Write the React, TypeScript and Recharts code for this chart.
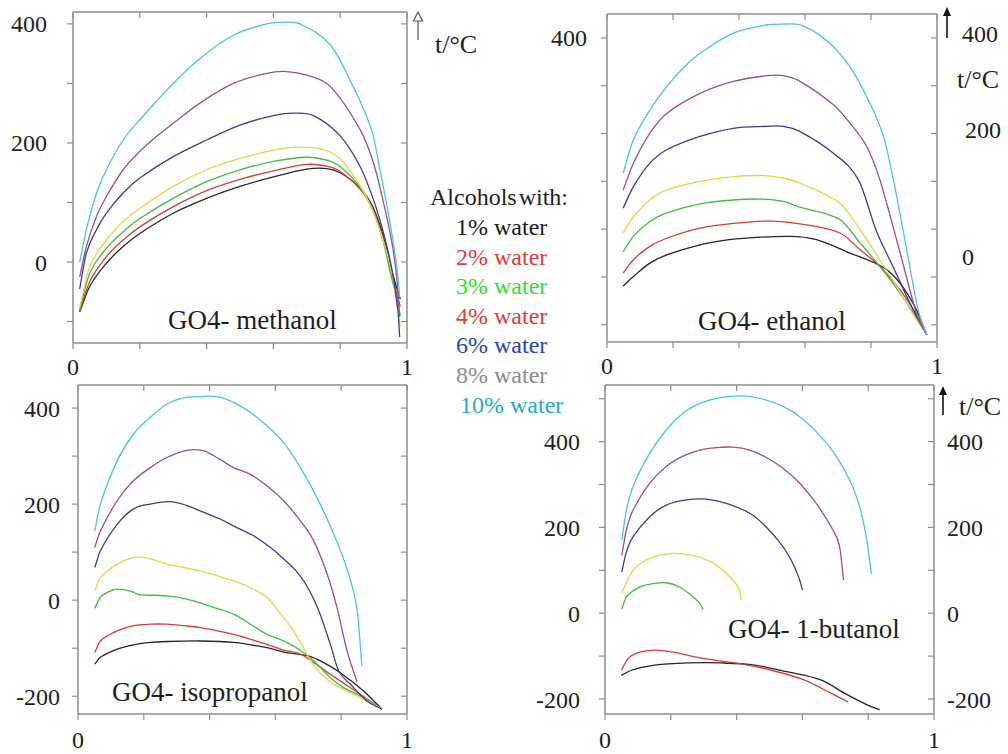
import React from 'react';
import { LineChart, Line, XAxis, YAxis } from 'recharts';

type Pt = [number, number];

// ---------- shared ----------
const curveColors = ['#262626', '#d63c3c', '#46b946', '#e2d64a', '#3b3c98', '#97518f', '#4fc6cf'];
const legendTitle = 'Alcohols with:';
const legendLabels = ['1% water', '2% water', '3% water', '4% water', '6% water', '8% water', '10% water'];
const legendColors = ['#1a1a1a', '#e23b3b', '#33dd33', '#d94040', '#2a45b5', '#8c8c8c', '#27a9cc'];
const xTicks = [0, 0.2, 0.4, 0.6, 0.8, 1];
const xTickLabels = [0, 1];

// ---------- GO4 - methanol ----------
const methanol1: Pt[] = [[.02,-84],[.05,-41],[.1,-2],[.15,26],[.2,48],[.3,82],[.4,107],[.5,127],[.6,143],[.7,156],[.76,157],[.8,150],[.86,124],[.9,90],[.93,42],[.95,-5],[.97,-45],[.98,-62]];
const methanol2: Pt[] = [[.02,-82],[.05,-33],[.1,9],[.15,37],[.2,59],[.3,93],[.4,120],[.5,139],[.6,153],[.7,164],[.76,161],[.8,152],[.86,122],[.9,86],[.93,36],[.95,-12],[.97,-55],[.98,-75]];
const methanol3: Pt[] = [[.02,-80],[.05,-19],[.1,23],[.15,51],[.2,73],[.3,107],[.4,135],[.5,155],[.6,169],[.7,176],[.76,171],[.8,160],[.86,125],[.9,84],[.93,32],[.95,-18],[.97,-62],[.98,-90]];
const methanol4: Pt[] = [[.02,-76],[.05,-8],[.1,37],[.15,68],[.2,90],[.3,127],[.4,155],[.5,174],[.6,188],[.67,193],[.75,189],[.8,173],[.86,128],[.9,82],[.94,15],[.96,-35],[.973,-85],[.98,-109]];
const methanol6: Pt[] = [[.02,-45],[.04,15],[.07,54],[.1,82],[.15,116],[.2,141],[.3,177],[.4,205],[.5,230],[.6,246],[.66,250],[.72,246],[.8,212],[.86,160],[.9,104],[.93,48],[.955,-13],[.973,-81],[.978,-126]];
const methanol8: Pt[] = [[.02,-25],[.04,26],[.07,76],[.1,110],[.15,155],[.2,186],[.25,211],[.3,233],[.38,267],[.48,300],[.58,317],[.64,320],[.7,314],[.77,295],[.86,222],[.9,166],[.93,99],[.955,32],[.97,-30],[.978,-92]];
const methanol10: Pt[] = [[.02,0],[.04,54],[.07,115],[.1,155],[.15,205],[.2,239],[.3,300],[.38,342],[.48,381],[.58,400],[.635,403],[.68,400],[.77,365],[.83,305],[.894,222],[.919,155],[.944,82],[.961,25],[.973,-25],[.978,-59]];
const methanolSeries = [methanol1, methanol2, methanol3, methanol4, methanol6, methanol8, methanol10];
const methanolYTicks = [-100, 0, 100, 200, 300, 400];
const methanolYLabels = [0, 200, 400];

// ---------- GO4 - ethanol ----------
const ethanol1: Pt[] = [[.049,-119],[.08,-99],[.13,-71],[.181,-54],[.282,-33],[.383,-21],[.555,-15],[.635,-22],[.736,-50],[.837,-80],[.888,-113],[.938,-169],[.969,-221]];
const ethanol2: Pt[] = [[.049,-92],[.08,-64],[.13,-36],[.181,-19],[.282,2],[.383,12],[.494,17],[.585,11],[.706,-8],[.767,-43],[.827,-78],[.888,-127],[.948,-190],[.969,-221]];
const ethanol3: Pt[] = [[.049,-47],[.08,-15],[.13,16],[.181,34],[.282,53],[.383,61],[.46,63],[.534,58],[.585,46],[.706,20],[.767,-29],[.827,-78],[.888,-134],[.948,-197],[.969,-221]];
const ethanol4: Pt[] = [[.049,-8],[.08,26],[.13,61],[.181,82],[.282,100],[.383,110],[.475,112],[.534,107],[.585,96],[.706,54],[.767,-1],[.827,-64],[.878,-120],[.938,-190],[.969,-221]];
const ethanol6: Pt[] = [[.049,44],[.08,89],[.13,138],[.181,166],[.282,194],[.383,211],[.484,215],[.534,215],[.585,204],[.686,159],[.762,103],[.817,-5],[.868,-80],[.923,-162],[.969,-221]];
const ethanol8: Pt[] = [[.049,82],[.08,138],[.13,201],[.181,242],[.282,284],[.383,309],[.484,321],[.534,321],[.585,309],[.686,260],[.736,222],[.787,173],[.827,103],[.888,-49],[.938,-176],[.969,-221]];
const ethanol10: Pt[] = [[.049,117],[.08,187],[.13,249],[.181,298],[.231,337],[.282,368],[.383,410],[.484,427],[.534,429],[.585,427],[.635,410],[.686,382],[.736,340],[.787,277],[.837,196],[.868,103],[.905,-31],[.943,-169],[.969,-221]];
const ethanolSeries = [ethanol1, ethanol2, ethanol3, ethanol4, ethanol6, ethanol8, ethanol10];
const ethanolYTicks = [-200, -100, 0, 100, 200, 300, 400];
const ethanolYLabels = [400];
const ethanolRightLabels = ['400', 't/°C', '200', '0'];

// ---------- GO4 - isopropanol ----------
const isopropanol1: Pt[] = [[.051,-133],[.068,-119],[.119,-102],[.169,-93],[.22,-88],[.27,-86],[.372,-85],[.473,-88],[.574,-99],[.625,-108],[.7,-116],[.747,-130],[.797,-151],[.868,-189],[.924,-227]];
const isopropanol2: Pt[] = [[.051,-109],[.068,-85],[.119,-64],[.169,-53],[.22,-50],[.27,-50],[.321,-53],[.372,-57],[.473,-71],[.574,-92],[.625,-104],[.676,-112],[.737,-140],[.797,-168],[.858,-196],[.924,-227]];
const isopropanol3: Pt[] = [[.051,-17],[.068,6],[.098,19],[.119,23],[.159,19],[.18,13],[.19,11],[.27,9],[.331,2],[.412,-15],[.473,-29],[.524,-50],[.574,-71],[.615,-82],[.666,-100],[.716,-126],[.767,-161],[.807,-182],[.858,-199],[.924,-227]];
const isopropanol4: Pt[] = [[.051,19],[.068,47],[.119,75],[.169,89],[.2,89],[.24,82],[.27,75],[.3,71],[.372,61],[.422,51],[.473,40],[.524,26],[.574,6],[.615,-28],[.646,-55],[.676,-88],[.716,-135],[.757,-165],[.797,-182],[.858,-203],[.924,-227]];
const isopropanol6: Pt[] = [[.051,68],[.068,103],[.119,158],[.169,190],[.22,200],[.28,205],[.331,197],[.382,183],[.432,169],[.483,151],[.534,134],[.584,110],[.615,92],[.676,50],[.726,-12],[.767,-92],[.792,-147],[.828,-175],[.878,-210],[.924,-227]];
const isopropanol8: Pt[] = [[.051,110],[.068,144],[.119,207],[.169,249],[.22,276],[.27,297],[.331,312],[.382,311],[.422,297],[.473,276],[.524,262],[.574,238],[.625,207],[.676,165],[.716,124],[.757,55],[.787,-15],[.818,-106],[.848,-170]];
const isopropanol10: Pt[] = [[.051,144],[.068,200],[.119,290],[.169,346],[.22,381],[.27,408],[.321,421],[.372,424],[.422,424],[.473,412],[.524,391],[.574,363],[.625,328],[.676,276],[.726,214],[.777,138],[.818,64],[.848,-18],[.863,-137]];
const isopropanolSeries = [isopropanol1, isopropanol2, isopropanol3, isopropanol4, isopropanol6, isopropanol8, isopropanol10];
const isopropanolYTicks = [-200, -100, 0, 100, 200, 300, 400];
const isopropanolYLabels = [-200, 0, 200, 400];

// ---------- GO4 - 1-butanol ----------
const butanol1: Pt[] = [[.05,-145],[.08,-133],[.151,-121],[.252,-116],[.354,-116],[.455,-121],[.556,-137],[.658,-156],[.729,-187],[.8,-215],[.835,-225]];
const butanol2: Pt[] = [[.05,-133],[.07,-106],[.1,-92],[.151,-86],[.202,-90],[.303,-106],[.404,-117],[.506,-133],[.607,-156],[.688,-187],[.739,-207]];
const butanol3: Pt[] = [[.051,9],[.065,38],[.105,61],[.146,69],[.186,71],[.227,61],[.268,38],[.288,23],[.298,9]];
const butanol4: Pt[] = [[.051,47],[.085,100],[.136,128],[.186,138],[.227,139],[.288,131],[.338,112],[.389,77],[.409,54],[.414,30]];
const butanol6: Pt[] = [[.051,96],[.065,143],[.085,178],[.136,225],[.186,252],[.247,264],[.308,266],[.369,256],[.44,233],[.49,201],[.541,155],[.571,116],[.592,77],[.6,54]];
const butanol8: Pt[] = [[.051,135],[.065,194],[.085,240],[.136,303],[.186,342],[.237,366],[.288,380],[.338,386],[.389,387],[.44,380],[.49,363],[.541,338],[.592,303],[.642,256],[.693,194],[.713,155],[.725,77]];
const butanol10: Pt[] = [[.051,170],[.065,240],[.085,295],[.136,373],[.186,427],[.237,466],[.288,489],[.338,501],[.389,506],[.43,506],[.49,497],[.541,482],[.592,458],[.642,423],[.693,377],[.744,310],[.774,248],[.794,178],[.81,91]];
const butanolSeries = [butanol1, butanol2, butanol3, butanol4, butanol6, butanol8, butanol10];
const butanolYTicks = [-200, -100, 0, 100, 200, 300, 400, 500];
const butanolYLabels = [-200, 0, 200, 400];
const butanolRightLabels = [-200, 0, 200, 400];

// ---------- styling ----------
const SERIF = '"Liberation Serif", "Times New Roman", Times, serif';
const FRAME = '#8e8e8e';
const TEXT = '#1e1e1e';

const toData = (pts: Pt[]) => pts.map(([x, y]) => ({ x, y }));

// smooth Hermite curve through the points (tangents from neighbouring points)
const smoothCurve = (context: any) => {
  let xs: number[] = [];
  let ys: number[] = [];
  return {
    areaStart() {},
    areaEnd() {},
    lineStart() {
      xs = [];
      ys = [];
    },
    point(x: number, y: number) {
      xs.push(+x);
      ys.push(+y);
    },
    lineEnd() {
      const n = xs.length;
      if (!n) return;
      context.moveTo(xs[0], ys[0]);
      if (n === 1) return;
      const m: number[] = [];
      for (let i = 0; i < n; i++) {
        if (i === 0) m.push((ys[1] - ys[0]) / (xs[1] - xs[0]));
        else if (i === n - 1) m.push((ys[n - 1] - ys[n - 2]) / (xs[n - 1] - xs[n - 2]));
        else m.push((ys[i + 1] - ys[i - 1]) / (xs[i + 1] - xs[i - 1]));
      }
      for (let i = 0; i < n - 1; i++) {
        const dx = xs[i + 1] - xs[i];
        context.bezierCurveTo(
          xs[i] + dx / 3, ys[i] + (m[i] * dx) / 3,
          xs[i + 1] - dx / 3, ys[i + 1] - (m[i + 1] * dx) / 3,
          xs[i + 1], ys[i + 1]
        );
      }
    },
  };
};

interface PanelProps {
  left: number;
  top: number;
  width: number;
  height: number;
  margin: { top: number; right: number; bottom: number; left: number };
  yWidth: number;
  domain: [number, number];
  yTicks: number[];
  yLabels: number[];
  series: Pt[][];
  xTickMargin: number;
  yTickMargin: number;
  rightLabels?: number[];
}

function Panel(p: PanelProps) {
  const tickStyle = { fontFamily: SERIF, fontSize: 24, fill: TEXT };
  const axisLine = { stroke: FRAME, strokeWidth: 1.5 };
  const tickLine = { stroke: FRAME, strokeWidth: 1.2 };
  return (
    <div style={{ position: 'absolute', left: p.left, top: p.top }}>
      <LineChart width={p.width} height={p.height} margin={p.margin}>
        <XAxis
          xAxisId="b"
          dataKey="x"
          type="number"
          domain={[0, 1]}
          ticks={xTicks}
          interval={0}
          allowDataOverflow
          tickFormatter={(v: number) => (xTickLabels.includes(v) ? String(v) : '')}
          tick={tickStyle}
          tickSize={6}
          tickMargin={p.xTickMargin}
          axisLine={axisLine}
          tickLine={tickLine}
          height={40}
        />
        <XAxis
          xAxisId="t"
          orientation="top"
          mirror
          dataKey="x"
          type="number"
          domain={[0, 1]}
          ticks={xTicks}
          interval={0}
          allowDataOverflow
          tickFormatter={() => ''}
          tickSize={6}
          axisLine={axisLine}
          tickLine={tickLine}
        />
        <YAxis
          yAxisId="l"
          type="number"
          domain={p.domain}
          ticks={p.yTicks}
          interval={0}
          allowDataOverflow
          tickFormatter={(v: number) => (p.yLabels.includes(v) ? String(v) : '')}
          tick={tickStyle}
          tickSize={6}
          tickMargin={p.yTickMargin}
          axisLine={axisLine}
          tickLine={tickLine}
          width={p.yWidth}
        />
        <YAxis
          yAxisId="r"
          orientation="right"
          mirror
          type="number"
          domain={p.domain}
          ticks={p.yTicks}
          interval={0}
          allowDataOverflow
          tickFormatter={() => ''}
          tickSize={6}
          axisLine={axisLine}
          tickLine={tickLine}
        />
        {p.rightLabels && (
          <YAxis
            yAxisId="rl"
            orientation="right"
            type="number"
            domain={p.domain}
            ticks={p.rightLabels}
            interval={0}
            allowDataOverflow
            tick={tickStyle}
            tickSize={0}
            tickMargin={13}
            axisLine={false}
            tickLine={false}
            width={60}
          />
        )}
        {p.series.map((pts, i) => (
          <Line
            key={i}
            xAxisId="b"
            yAxisId="l"
            data={toData(pts)}
            dataKey="y"
            type={smoothCurve as any}
            stroke={curveColors[i]}
            strokeWidth={1.3}
            dot={false}
            activeDot={false}
            isAnimationActive={false}
          />
        ))}
      </LineChart>
    </div>
  );
}

const titleStyle = { fontFamily: SERIF, fontSize: 27, fill: TEXT };
const labelStyle = { fontFamily: SERIF, fontSize: 24, fill: TEXT };

export default function App() {
  return (
    <div style={{ position: 'absolute', left: 0, top: 0, width: 1008, height: 754, background: '#fff', overflow: 'hidden' }}>
      <Panel
        left={0} top={0} width={417} height={383}
        margin={{ top: 12, right: 10, bottom: 0, left: 0 }}
        yWidth={73} domain={[-136, 420]}
        yTicks={methanolYTicks} yLabels={methanolYLabels}
        series={methanolSeries} xTickMargin={9} yTickMargin={20}
      />
      <Panel
        left={500} top={0} width={447} height={382}
        margin={{ top: 14, right: 10, bottom: 0, left: 0 }}
        yWidth={107} domain={[-236, 450]}
        yTicks={ethanolYTicks} yLabels={ethanolYLabels}
        series={ethanolSeries} xTickMargin={9} yTickMargin={14}
      />
      <Panel
        left={0} top={370} width={417} height={384}
        margin={{ top: 15, right: 10, bottom: 0, left: 0 }}
        yWidth={78} domain={[-237, 448]}
        yTicks={isopropanolYTicks} yLabels={isopropanolYLabels}
        series={isopropanolSeries} xTickMargin={11} yTickMargin={12}
      />
      <Panel
        left={500} top={370} width={498} height={384}
        margin={{ top: 15, right: 4, bottom: 0, left: 0 }}
        yWidth={105} domain={[-235, 532]}
        yTicks={butanolYTicks} yLabels={butanolYLabels}
        series={butanolSeries} xTickMargin={11} yTickMargin={19}
        rightLabels={butanolRightLabels}
      />
      <svg width={1008} height={754} style={{ position: 'absolute', left: 0, top: 0, pointerEvents: 'none' }}>
        {/* panel titles */}
        <text x={168} y={329} style={titleStyle}>GO4- methanol</text>
        <text x={698} y={330} style={titleStyle}>GO4- ethanol</text>
        <text x={112} y={701} style={titleStyle}>GO4- isopropanol</text>
        <text x={728} y={638} style={titleStyle}>GO4- 1-butanol</text>

        {/* legend */}
        <text x={430} y={205} style={{ ...labelStyle, wordSpacing: -4 }}>{legendTitle}</text>
        {legendLabels.map((l, i) => (
          <text key={l} x={i === 6 ? 460 : 456} y={235 + i * 29.6} style={{ ...labelStyle, fill: legendColors[i] }}>{l}</text>
        ))}

        {/* methanol unit */}
        <line x1={418} y1={40} x2={418} y2={20} stroke="#555" strokeWidth={1.2} />
        <polygon points="413.5,21 418,12 422.5,21" fill="#fff" stroke="#555" strokeWidth={1.2} />
        <text x={435} y={53} style={{ ...labelStyle, fontSize: 26 }}>t/°C</text>

        {/* ethanol right side labels */}
        <line x1={947} y1={38} x2={947} y2={14} stroke="#111" strokeWidth={1.6} />
        <polygon points="943,16 947,7 951,16" fill="#111" />
        <text x={962} y={42} style={labelStyle}>{ethanolRightLabels[0]}</text>
        <text x={957} y={88} style={{ ...labelStyle, fontSize: 26 }}>{ethanolRightLabels[1]}</text>
        <text x={965} y={138} style={labelStyle}>{ethanolRightLabels[2]}</text>
        <text x={962} y={265} style={labelStyle}>{ethanolRightLabels[3]}</text>

        {/* butanol unit */}
        <line x1={943} y1={415} x2={943} y2={393} stroke="#111" strokeWidth={1.6} />
        <polygon points="939,395 943,386 947,395" fill="#111" />
        <text x={959} y={415} style={{ ...labelStyle, fontSize: 26 }}>t/°C</text>
      </svg>
    </div>
  );
}
